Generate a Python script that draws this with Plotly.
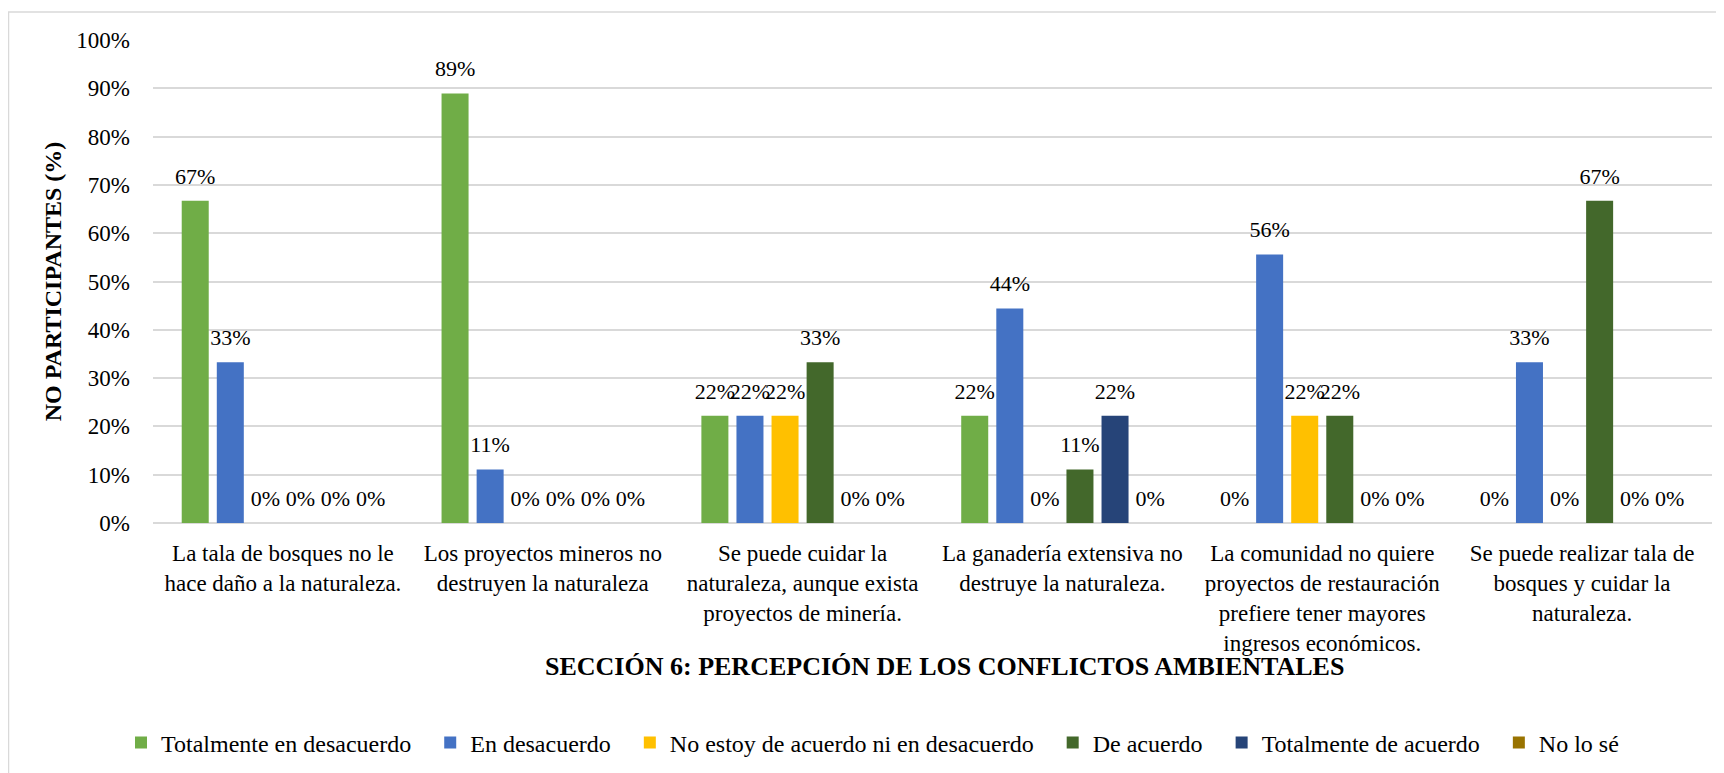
import plotly.graph_objects as go

categories = [
    "La tala de bosques no le<br>hace daño a la naturaleza.",
    "Los proyectos mineros no<br>destruyen la naturaleza",
    "Se puede cuidar la<br>naturaleza, aunque exista<br>proyectos de minería.",
    "La ganadería extensiva no<br>destruye la naturaleza.",
    "La comunidad no quiere<br>proyectos de restauración<br>prefiere tener mayores<br>ingresos económicos.",
    "Se puede realizar tala de<br>bosques y cuidar la<br>naturaleza.",
]

series_names = [
    "Totalmente en desacuerdo",
    "En desacuerdo",
    "No estoy de acuerdo ni en desacuerdo",
    "De acuerdo",
    "Totalmente de acuerdo",
    "No lo sé",
]

totalmente_en_desacuerdo = [66.7, 88.9, 22.2, 22.2, 0, 0]
en_desacuerdo = [33.3, 11.1, 22.2, 44.4, 55.6, 33.3]
ni_acuerdo_ni_desacuerdo = [0, 0, 22.2, 0, 22.2, 0]
de_acuerdo = [0, 0, 33.3, 11.1, 22.2, 66.7]
totalmente_de_acuerdo = [0, 0, 0, 22.2, 0, 0]
no_lo_se = [0, 0, 0, 0, 0, 0]

series_values = [
    totalmente_en_desacuerdo,
    en_desacuerdo,
    ni_acuerdo_ni_desacuerdo,
    de_acuerdo,
    totalmente_de_acuerdo,
    no_lo_se,
]

colors = ["#70AD47", "#4472C4", "#FFC000", "#43682B", "#264478", "#997300"]

FONT = "Liberation Serif"
GAP = 0.19
LEG_PAD = "\u00a0\u00a0\u200a"

fig = go.Figure()
for name, vals, col in zip(series_names, series_values, colors):
    fig.add_trace(go.Bar(
        x=categories,
        y=vals,
        name=name + LEG_PAD,
        marker=dict(color=col, line=dict(width=0)),
        hoverinfo="skip",
    ))

# data labels, grouped the same way as the bars
for name, vals in zip(series_names, series_values):
    fig.add_trace(go.Scatter(
        x=categories,
        y=vals,
        mode="markers+text",
        marker=dict(size=17, opacity=0, color="white"),
        texttemplate="%{y:.0f}%",
        textposition="top center",
        textfont=dict(family=FONT, size=22, color="#000000"),
        cliponaxis=False,
        showlegend=False,
        hoverinfo="skip",
        name=name,
    ))

W, H = 1716, 765
ml, mr, mt, mb = 145, 12, 32, 250
pw = W - ml - mr
ph = H - mt - mb

# light gray chart border (decoration)
fig.add_shape(type="rect", xref="paper", yref="paper",
              x0=(0.5 - ml) / pw, x1=1.05,
              y0=-0.6, y1=(H - mb - 4) / ph,
              line=dict(color="#D9D9D9", width=1.5), fillcolor="rgba(0,0,0,0)",
              layer="below")

# x-axis title
fig.add_annotation(
    xref="paper", yref="paper", x=0.5077, y=(H - mb - 658) / ph,
    xanchor="center", yanchor="middle", showarrow=False,
    text="<b>SECCIÓN 6: PERCEPCIÓN DE LOS CONFLICTOS AMBIENTALES</b>",
    font=dict(family=FONT, size=26, color="#000000"),
)

fig.update_layout(
    width=W, height=H,
    margin=dict(l=ml, r=mr, t=mt, b=mb, autoexpand=False),
    barmode="group",
    bargap=GAP,
    bargroupgap=0.23,
    scattermode="group",
    scattergap=GAP,
    plot_bgcolor="white",
    paper_bgcolor="white",
    font=dict(family=FONT, color="#000000"),
    showlegend=True,
    legend=dict(
        orientation="h",
        xref="container", yref="container",
        x=113 / W, xanchor="left",
        y=1 - 735 / H, yanchor="middle",
        font=dict(family=FONT, size=24, color="#000000"),
        bgcolor="rgba(0,0,0,0)",
        traceorder="normal",
    ),
    xaxis=dict(
        tickfont=dict(family=FONT, size=23, color="#000000"),
        showgrid=False,
        showline=False,
        ticks="",
        ticklabelstandoff=14,
    ),
    yaxis=dict(
        range=[0, 100],
        dtick=10,
        ticksuffix="%",
        tickfont=dict(family=FONT, size=23, color="#000000"),
        showgrid=True,
        gridcolor="#D9D9D9",
        gridwidth=2,
        zeroline=True,
        zerolinecolor="#D9D9D9",
        zerolinewidth=2,
        showline=False,
        ticks="",
        ticklabelstandoff=22,
        title=dict(
            text="<b>NO PARTICIPANTES (%)</b>",
            font=dict(family=FONT, size=24, color="#000000"),
            standoff=7,
        ),
    ),
)

fig.write_html("out.html")
